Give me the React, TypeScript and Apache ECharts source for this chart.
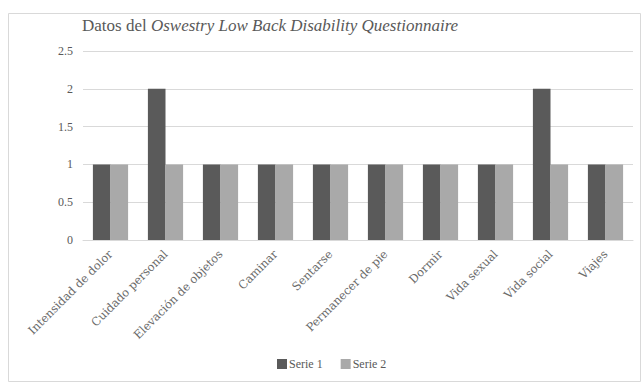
import React, { useEffect, useRef } from "react";
import * as echarts from "echarts";

const categories = [
  "Intensidad de dolor",
  "Cuidado personal",
  "Elevación de objetos",
  "Caminar",
  "Sentarse",
  "Permanecer de pie",
  "Dormir",
  "Vida sexual",
  "Vida social",
  "Viajes",
];
const serie1 = [1, 2, 1, 1, 1, 1, 1, 1, 2, 1];
const serie2 = [1, 1, 1, 1, 1, 1, 1, 1, 1, 1];
const yTicks = { min: 0, max: 2.5, interval: 0.5 };

const FONT = "'Liberation Serif', 'DejaVu Serif', serif";
const FONT2 = "'DejaVu Serif', 'Liberation Serif', serif";

export default function App() {
  const ref = useRef<HTMLDivElement>(null);
  useEffect(() => {
    const chart = echarts.init(ref.current!, null, { renderer: "svg" });
    chart.setOption({
      animation: false,
      backgroundColor: "#ffffff",
      graphic: [
        {
          type: "rect",
          shape: { x: 8.5, y: 13.5, width: 632, height: 368 },
          style: { fill: "none", stroke: "#d9d9d9", lineWidth: 1 },
          silent: true,
        },
      ],
      title: {
        text: "{a|Datos del }{b|Oswestry Low Back Disability Questionnaire}",
        left: 77,
        top: 12,
        textStyle: {
          fontWeight: "normal",
          rich: {
            a: { fontFamily: FONT, fontSize: 17, color: "#595959", fontWeight: "normal" },
            b: { fontFamily: FONT, fontSize: 17, color: "#595959", fontStyle: "italic", fontWeight: "normal" },
          },
        },
      },
      legend: {
        bottom: 8,
        left: 272,
        itemWidth: 10,
        itemHeight: 10,
        itemGap: 18,
        icon: "rect",
        textStyle: { fontFamily: FONT, fontSize: 12, color: "#595959", padding: [0, 0, 0, -3] },
        data: ["Serie 1", "Serie 2"],
      },
      grid: { left: 83, right: 10, top: 51, bottom: 143 },
      xAxis: {
        type: "category",
        data: categories,
        axisLine: { show: true, lineStyle: { color: "#d9d9d9" } },
        axisTick: { show: false },
        axisLabel: {
          rotate: 45,
          interval: 0,
          margin: 12,
          fontFamily: FONT2,
          fontSize: 11.5,
          color: "#6a6a6a",
        },
      },
      yAxis: {
        type: "value",
        min: yTicks.min,
        max: yTicks.max,
        interval: yTicks.interval,
        axisLine: { show: false },
        axisTick: { show: false },
        splitLine: { lineStyle: { color: "#d9d9d9" } },
        axisLabel: { fontFamily: FONT, fontSize: 12, color: "#595959", margin: 10 },
      },
      series: [
        {
          name: "Serie 1",
          type: "bar",
          data: serie1,
          barGap: "0%",
          barCategoryGap: "36%",
          itemStyle: { color: "#5a5a5a" },
        },
        {
          name: "Serie 2",
          type: "bar",
          data: serie2,
          itemStyle: { color: "#a9a9a9" },
        },
      ],
    });
    return () => chart.dispose();
  }, []);
  return (
    <div
      ref={ref}
      style={{ position: "fixed", left: 0, top: 0, width: 643, height: 383 }}
    />
  );
}
